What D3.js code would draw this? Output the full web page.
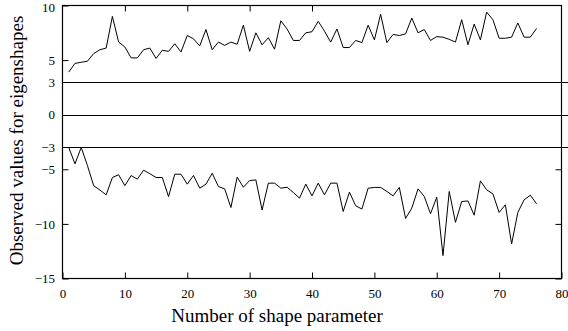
<!DOCTYPE html>
<html>
<head>
<meta charset="utf-8">
<script src="https://cdn.jsdelivr.net/npm/d3@7"></script>
<style>
  body { margin: 0; background: #fff; }
  svg text { font-family: "Liberation Serif", "Times New Roman", serif; fill: #000; }
</style>
</head>
<body>
<svg id="canvas"></svg>
<script>
var width = 568,
	height = 331;

// observed values, shape parameters 1..76
var upper = [3.9, 4.7, 4.8, 4.9, 5.6, 5.95, 6.1, 9.0, 6.65, 6.2,
	5.2, 5.2, 5.95, 6.1, 5.15, 5.9, 5.8, 6.5, 5.75, 7.25,
	6.95, 6.3, 7.8, 5.95, 6.65, 6.35, 6.65, 6.45, 8.2, 5.8,
	7.5, 6.4, 7.05, 6.0, 8.6, 7.85, 6.8, 6.8, 7.5, 7.6,
	8.55, 7.65, 6.65, 7.85, 6.15, 6.15, 6.8, 6.6, 8.2, 6.85,
	9.2, 6.6, 7.35, 7.25, 7.4, 8.85, 7.5, 7.8, 6.8, 7.15,
	7.1, 6.9, 6.65, 8.7, 6.4, 8.3, 6.85, 9.4, 8.7, 7.0,
	7.0, 7.1, 8.4, 7.1, 7.1, 7.9];

var lower = [-3.0, -4.5, -3.0, -4.66, -6.5, -6.9, -7.34, -5.75, -5.5, -6.5,
	-5.57, -5.9, -5.08, -5.4, -5.75, -5.75, -7.5, -5.45, -5.45, -6.36,
	-5.57, -6.73, -6.36, -5.36, -6.58, -6.79, -8.5, -5.72, -6.64, -6.03,
	-5.97, -8.73, -6.27, -6.27, -6.73, -6.64, -7.12, -7.64, -6.36, -7.43,
	-6.27, -7.34, -6.27, -6.27, -8.86, -7.09, -8.34, -8.64, -6.73, -6.66,
	-6.66, -7.03, -7.43, -6.66, -9.5, -8.55, -6.79, -7.49, -9.07, -7.55,
	-12.9, -7.03, -9.86, -7.95, -7.9, -9.2, -6.06, -6.88, -7.25, -8.95,
	-8.25, -11.84, -8.95, -7.8, -7.37, -8.16];

var xTicks = [0, 10, 20, 30, 40, 50, 60, 70, 80];
var yTicks = [-15, -10, -5, -3, 0, 3, 5, 10];
var refLines = [-3, 0, 3];
var topTicks = [10, 20, 30, 40];
var rightTicks = [-15, -10, -5];

var serif = "'Liberation Serif', 'Times New Roman', serif";

// plot box (named to avoid window.top)
var pLeft = 62.5, pRight = 561.5, pTop = 5.5, pBottom = 278.5;

var svg = d3.select("#canvas")
	.attr("width", width)
	.attr("height", height);

var x = d3.scaleLinear().domain([0, 80]).range([pLeft, pRight]);
var y = d3.scaleLinear().domain([-15, 10]).range([pBottom, pTop]);

// reference lines at -3, 0, 3
svg.selectAll("line.ref")
	.data(refLines)
	.enter()
	.append("line")
	.attr("class", "ref")
	.attr("x1", pLeft)
	.attr("x2", width)
	.attr("y1", function(d){ return Math.round(y(d)) + 0.5; })
	.attr("y2", function(d){ return Math.round(y(d)) + 0.5; })
	.attr("stroke", "#000")
	.attr("stroke-width", 1);

// frame
svg.append("rect")
	.attr("x", pLeft)
	.attr("y", pTop)
	.attr("width", pRight - pLeft)
	.attr("height", pBottom - pTop)
	.attr("fill", "none")
	.attr("stroke", "#000")
	.attr("stroke-width", 1.2);

// bottom axis, ticks pointing inward
svg.append("g")
	.attr("transform", "translate(0," + pBottom + ")")
	.call(d3.axisBottom(x).tickValues(xTicks).tickSize(-6).tickPadding(10))
	.attr("font-family", serif)
	.attr("font-size", 13)
	.call(function(g){
		g.select(".domain").remove();
		g.selectAll("text").attr("dy", "0.71em");
	});

// left axis
svg.append("g")
	.attr("transform", "translate(" + pLeft + ",0)")
	.call(d3.axisLeft(y).tickValues(yTicks).tickSize(-6).tickPadding(7.5))
	.attr("font-family", serif)
	.attr("font-size", 13)
	.call(function(g){
		g.select(".domain").remove();
		g.selectAll(".tick line").filter(function(d){ return refLines.indexOf(d) >= 0; }).remove();
		g.selectAll(".tick text").filter(function(d){ return d === 10; }).attr("dy", "0.45em");
	});

// mirrored ticks
svg.append("g")
	.attr("transform", "translate(0," + pTop + ")")
	.call(d3.axisTop(x).tickValues(topTicks).tickSize(-6).tickFormat(""))
	.call(function(g){ g.select(".domain").remove(); });

svg.append("g")
	.attr("transform", "translate(" + pRight + ",0)")
	.call(d3.axisRight(y).tickValues(rightTicks).tickSize(-6).tickFormat(""))
	.call(function(g){ g.select(".domain").remove(); });

var line = d3.line()
	.x(function(d, i){ return x(i + 1); })
	.y(function(d){ return y(d); });

[upper, lower].forEach(function(series){
	svg.append("path")
		.datum(series)
		.attr("d", line)
		.attr("fill", "none")
		.attr("stroke", "#000")
		.attr("stroke-width", 1)
		.attr("stroke-linejoin", "miter");
});

// axis titles
svg.append("text")
	.attr("x", 277)
	.attr("y", 322)
	.attr("text-anchor", "middle")
	.style("font-size", "19px")
	.text("Number of shape parameter");

svg.append("text")
	.attr("transform", "translate(23,140.5) rotate(-90)")
	.attr("text-anchor", "middle")
	.style("font-size", "19px")
	.text("Observed values for eigenshapes");
</script>
</body>
</html>
